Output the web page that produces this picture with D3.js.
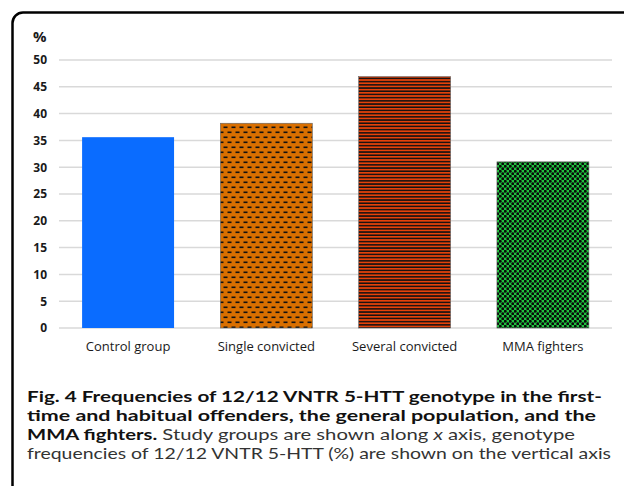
<!DOCTYPE html>
<html>
<head>
<meta charset="utf-8">
<script src="https://cdn.jsdelivr.net/npm/d3@7"></script>
<style>
  body { margin: 0; background: #fff; }
  svg { display: block; }
  .tick text { font-family: "Open Sans", sans-serif; }
</style>
</head>
<body>
<script>
// data
var groups = ["Control group", "Single convicted", "Several convicted", "MMA fighters"];
var freqs = [35.6, 38.2, 46.9, 31.0];
var yTicks = [0, 5, 10, 15, 20, 25, 30, 35, 40, 45, 50];
var fills = ["#0A6CFF", "url(#dash)", "url(#stripe)", "url(#dots)"];

var svgWidth = 624, svgHeight = 486;
var margin = { top: 60, right: 12, bottom: 158, left: 59 };
var width = svgWidth - margin.left - margin.right;
var height = 328 - margin.top;

var svg = d3.select("body").append("svg")
  .attr("width", svgWidth)
  .attr("height", svgHeight);

// patterns
var defs = svg.append("defs");

var p1 = defs.append("pattern").attr("id", "dash")
  .attr("patternUnits", "userSpaceOnUse").attr("width", 8).attr("height", 10);
p1.append("rect").attr("width", 8).attr("height", 10).attr("fill", "#D96F00");
p1.append("rect").attr("x", 0.5).attr("y", 1.5).attr("width", 4).attr("height", 1.6).attr("fill", "#111");
p1.append("rect").attr("x", 4.5).attr("y", 6.5).attr("width", 4).attr("height", 1.6).attr("fill", "#111");
p1.append("rect").attr("x", -3.5).attr("y", 6.5).attr("width", 4).attr("height", 1.6).attr("fill", "#111");

var p2 = defs.append("pattern").attr("id", "stripe")
  .attr("patternUnits", "userSpaceOnUse").attr("width", 8).attr("height", 3.2);
p2.append("rect").attr("width", 8).attr("height", 3.2).attr("fill", "#E5420A");
p2.append("rect").attr("y", 1.7).attr("width", 8).attr("height", 1.5).attr("fill", "#111");

var p3 = defs.append("pattern").attr("id", "dots")
  .attr("patternUnits", "userSpaceOnUse").attr("width", 5).attr("height", 5);
p3.append("rect").attr("width", 5).attr("height", 5).attr("fill", "#1FC13E");
p3.append("circle").attr("cx", 1.25).attr("cy", 1.25).attr("r", 1.45).attr("fill", "#0a0a0a");
p3.append("circle").attr("cx", 3.75).attr("cy", 3.75).attr("r", 1.45).attr("fill", "#0a0a0a");

// frame
svg.append("path")
  .attr("d", "M12.5,486 L12.5,23 A10.5,10.5 0 0 1 23,12.5 L624,12.5")
  .attr("fill", "none")
  .attr("stroke", "#000")
  .attr("stroke-width", 2.5);

var chartGroup = svg.append("g")
  .attr("transform", `translate(${margin.left}, ${margin.top})`);

var xScale = d3.scaleBand().domain(groups).range([0, width]).paddingInner(0.335).paddingOuter(0.167);
var yScale = d3.scaleLinear().domain([0, 50]).range([height, 0]);

// gridlines
chartGroup.append("g")
  .selectAll("line")
  .data(yTicks)
  .enter()
  .append("line")
  .attr("x1", 0)
  .attr("x2", width)
  .attr("y1", d => yScale(d))
  .attr("y2", d => yScale(d))
  .attr("stroke", "#D9D9D9")
  .attr("stroke-width", 1.5);

// y axis labels
var leftAxis = d3.axisLeft(yScale).tickValues(yTicks).tickSize(0).tickPadding(12);
var yAxis = chartGroup.append("g").call(leftAxis);
yAxis.select(".domain").remove();
yAxis.selectAll("text")
  .attr("font-size", 12)
  .attr("font-weight", "bold")
  .attr("fill", "#1a1a1a");

chartGroup.append("text")
  .attr("x", -26)
  .attr("y", -18)
  .attr("font-family", "Open Sans, sans-serif")
  .attr("font-weight", "bold")
  .attr("font-size", 15)
  .attr("fill", "#1a1a1a")
  .text("%");

// bars
chartGroup.selectAll(".bar")
  .data(freqs)
  .enter()
  .append("rect")
  .attr("class", "bar")
  .attr("x", (d, i) => xScale(groups[i]))
  .attr("y", d => yScale(d))
  .attr("width", xScale.bandwidth())
  .attr("height", d => height - yScale(d))
  .attr("fill", (d, i) => fills[i])
  .attr("stroke", (d, i) => i === 0 ? "none" : "#666")
  .attr("stroke-width", 0.6);

// x axis labels
var bottomAxis = d3.axisBottom(xScale).tickSize(0).tickPadding(14);
var xAxis = chartGroup.append("g")
  .attr("transform", `translate(0, ${height})`)
  .call(bottomAxis);
xAxis.select(".domain").remove();
xAxis.selectAll("text")
  .attr("font-size", 13)
  .attr("fill", "#1a1a1a");

// caption
var cap = svg.append("g")
  .attr("font-family", "Lato, sans-serif")
  .attr("font-size", 15.8)
  .attr("fill", "#111");

cap.append("text").attr("x", 27).attr("y", 402)
  .attr("font-weight", "bold")
  .attr("textLength", 575).attr("lengthAdjust", "spacingAndGlyphs")
  .text("Fig. 4 Frequencies of 12/12 VNTR 5-HTT genotype in the first-");

cap.append("text").attr("x", 27).attr("y", 421)
  .attr("font-weight", "bold")
  .attr("textLength", 569).attr("lengthAdjust", "spacingAndGlyphs")
  .text("time and habitual offenders, the general population, and the");

var l3 = cap.append("text").attr("x", 27).attr("y", 440)
  .attr("textLength", 548).attr("lengthAdjust", "spacingAndGlyphs");
l3.append("tspan").attr("font-weight", "bold").text("MMA fighters.");
l3.append("tspan").attr("fill", "#333").text(" Study groups are shown along ");
l3.append("tspan").attr("fill", "#333").attr("font-style", "italic").text("x");
l3.append("tspan").attr("fill", "#333").text(" axis, genotype");

cap.append("text").attr("x", 27).attr("y", 459)
  .attr("fill", "#333")
  .attr("textLength", 584).attr("lengthAdjust", "spacingAndGlyphs")
  .text("frequencies of 12/12 VNTR 5-HTT (%) are shown on the vertical axis");
</script>
</body>
</html>
